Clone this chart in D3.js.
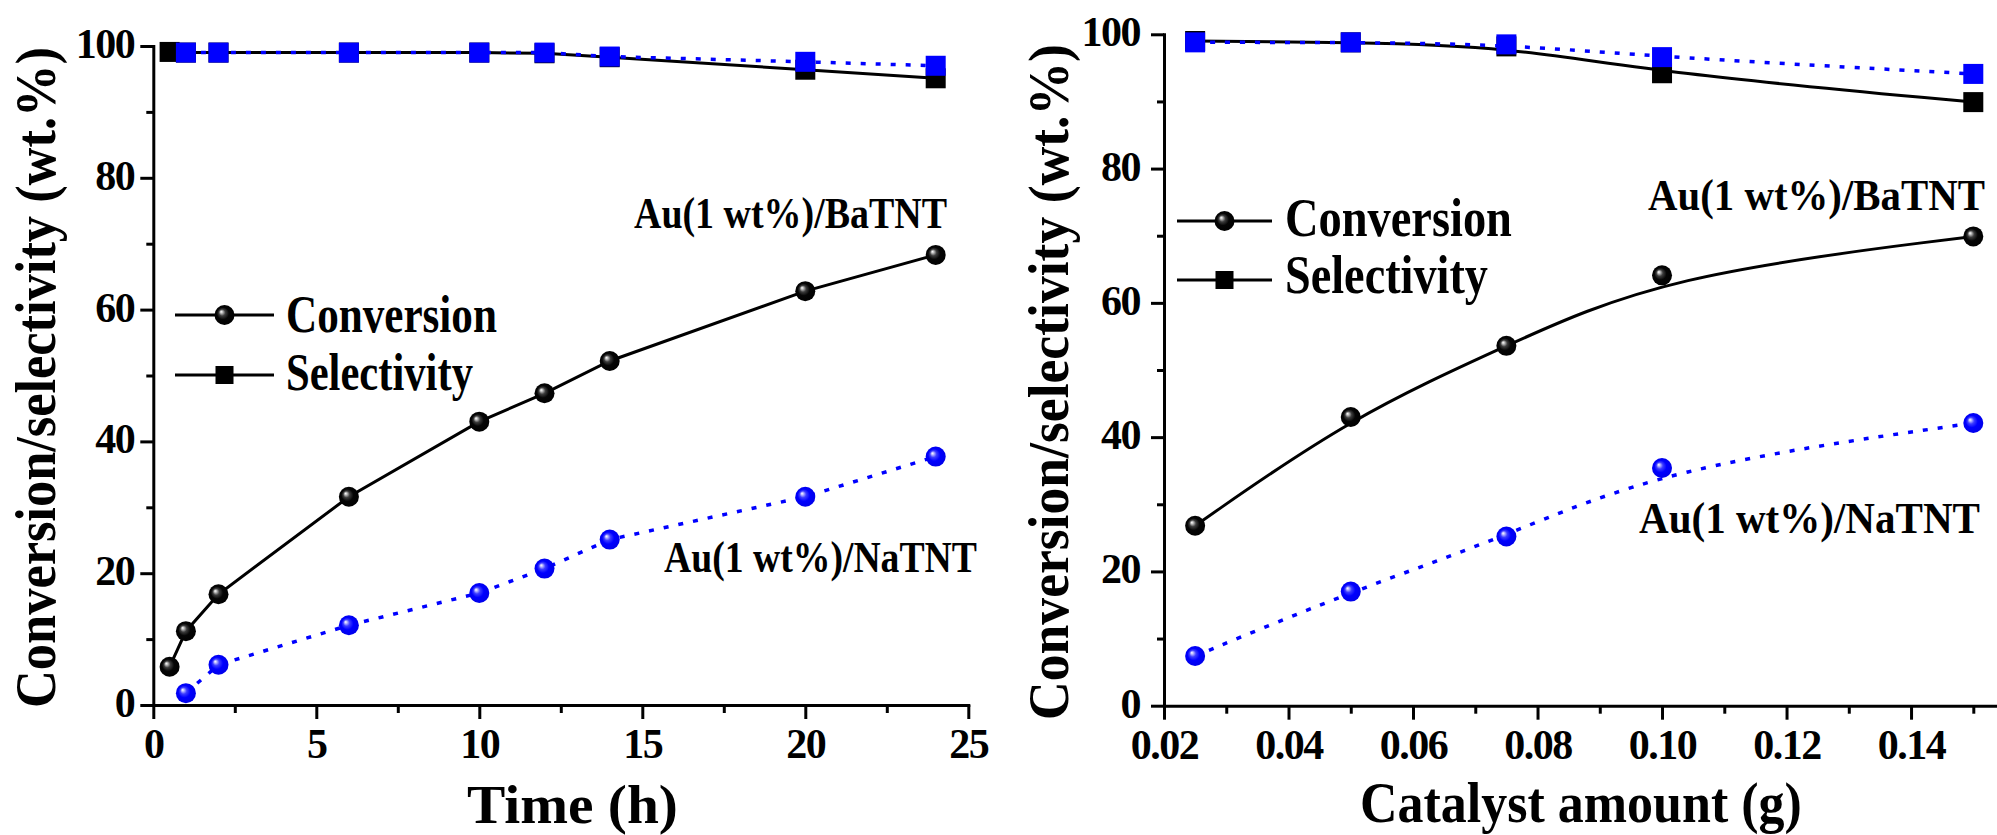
<!DOCTYPE html>
<html><head><meta charset="utf-8">
<script src="https://cdn.jsdelivr.net/npm/d3@7"></script>
<style>
html,body{margin:0;padding:0;background:#fff;}
svg{display:block;}
</style></head><body>
<svg id="chart" width="1997" height="835"></svg>
<script>
// Reaction time series (h)
const timeBa = [0.5, 1, 2, 6, 10, 12, 14, 20, 24];
const convBaTime = [5.8, 11.2, 16.8, 31.6, 43.0, 47.3, 52.2, 62.8, 68.3];
const selBaTime = [99.1, 99.0, 99.0, 99.0, 99.0, 98.9, 98.3, 96.4, 95.1];
const timeNa = [1, 2, 6, 10, 12, 14, 20, 24];
const convNaTime = [1.8, 6.1, 12.1, 17.0, 20.7, 25.1, 31.6, 37.7];
const selNaTime = [99.0, 99.0, 99.0, 99.0, 99.0, 98.4, 97.6, 97.0];

// Catalyst amount series (g)
const catalyst = [0.025, 0.05, 0.075, 0.10, 0.15];
const convBaCat = [26.8, 43.0, 53.6, 64.1, 69.9];
const selBaCat = [99.0, 98.8, 98.2, 94.2, 89.9];
const convNaCat = [7.4, 17.0, 25.2, 35.4, 42.1];
const selNaCat = [98.8, 98.8, 98.5, 96.6, 94.1];

// Axis ticks
const timeMajor = [0, 5, 10, 15, 20, 25];
const timeMinor = [2.5, 7.5, 12.5, 17.5, 22.5];
const catMajor = [0.02, 0.04, 0.06, 0.08, 0.10, 0.12, 0.14];
const catMinor = [0.03, 0.05, 0.07, 0.09, 0.11, 0.13, 0.15];
const yMajor = [0, 20, 40, 60, 80, 100];
const yMinor = [10, 30, 50, 70, 90];

const yTitle = "Conversion/selectivity (wt.%)";
const legendNames = ["Conversion", "Selectivity"];
const sampleBa = "Au(1 wt%)/BaTNT";
const sampleNa = "Au(1 wt%)/NaTNT";

const FONT = "'Liberation Serif', 'Times New Roman', serif";

const svg = d3.select("#chart");
const defs = svg.append("defs");

// shaded ball markers
function ball(id, stops) {
  const g = defs.append("radialGradient").attr("id", id)
    .attr("cx", 0.5).attr("cy", 0.5).attr("r", 0.55)
    .attr("fx", 0.33).attr("fy", 0.33);
  stops.forEach(s => g.append("stop").attr("offset", s[0]).attr("stop-color", s[1]));
}
ball("ballBlack", [[0, "#ffffff"], [0.1, "#c8c8c8"], [0.3, "#3c3c3c"], [0.55, "#050505"], [1, "#000000"]]);
ball("ballBlue", [[0, "#ffffff"], [0.1, "#c4c4ff"], [0.3, "#3c3cff"], [0.55, "#0000ff"], [1, "#0000e6"]]);

const BLUE = "#0000ff";
const R = 10, SQ = 20;

function styleAxis(sel) {
  sel.attr("font-family", FONT).attr("font-weight", "bold");
  sel.selectAll("line").attr("stroke", "#000").attr("stroke-width", 3);
  sel.select(".domain").attr("stroke", "#000").attr("stroke-width", 3).attr("stroke-linecap", "square");
}

// bold serif label squeezed horizontally to a given width
function label(g, t, size, x, y, len, rotate) {
  const el = g.append("text").attr("font-family", FONT).attr("font-weight", "bold")
    .attr("font-size", size).attr("fill", "#000").text(t);
  const k = len / el.node().getComputedTextLength();
  el.attr("transform", `translate(${x},${y})${rotate ? " rotate(-90)" : ""} scale(${k},1)`);
  return el;
}

function panel(c) {
  const x = d3.scaleLinear().domain(c.xDomain).range(c.xRange);
  const y = d3.scaleLinear().domain([0, 100]).range(c.yRange);
  const g = svg.append("g");
  const x0 = c.xRange[0], y0 = c.yRange[0];

  // minor ticks
  g.append("g").attr("transform", `translate(0,${y0})`)
    .call(d3.axisBottom(x).tickValues(c.xMinor).tickSize(8).tickSizeOuter(0).tickFormat(""))
    .call(s => s.select(".domain").remove()).call(styleAxis);
  g.append("g").attr("transform", `translate(${x0},0)`)
    .call(d3.axisLeft(y).tickValues(yMinor).tickSize(7).tickSizeOuter(0).tickFormat(""))
    .call(s => s.select(".domain").remove()).call(styleAxis);

  // major ticks and labels
  const xa = g.append("g").attr("transform", `translate(0,${y0})`)
    .call(d3.axisBottom(x).tickValues(c.xMajor).tickSize(14).tickSizeOuter(0).tickFormat(c.xFormat))
    .call(styleAxis);
  xa.selectAll("text").attr("y", 53).attr("dy", null)
    .attr("font-size", 42).attr("fill", "#000");
  const ya = g.append("g").attr("transform", `translate(${x0},0)`)
    .call(d3.axisLeft(y).tickValues(yMajor).tickSize(13).tickSizeOuter(0).tickFormat(d3.format("d")))
    .call(styleAxis);
  ya.selectAll("text").attr("x", -c.yLabelGap).attr("y", 11.5).attr("dy", null)
    .attr("font-size", 42).attr("fill", "#000");
  g.selectAll(".tick text").attr("letter-spacing", -1.5);

  const line = (xs, ys) => d3.line().curve(c.curve)
    .x((d, i) => x(xs[i])).y(d => y(d))(ys);

  function series(xs, conv, sel, color, grad, dash) {
    [conv, sel].forEach(vals => {
      g.append("path").attr("d", line(xs, vals)).attr("fill", "none")
        .attr("stroke", color).attr("stroke-width", dash ? 3.5 : 3)
        .attr("stroke-dasharray", dash ? "5 10" : null);
    });
    g.append("g").selectAll("rect").data(sel).join("rect")
      .attr("x", (d, i) => x(xs[i]) - SQ / 2).attr("y", d => y(d) - SQ / 2)
      .attr("width", SQ).attr("height", SQ).attr("fill", color);
    g.append("g").selectAll("circle").data(conv).join("circle")
      .attr("cx", (d, i) => x(xs[i])).attr("cy", d => y(d)).attr("r", R)
      .attr("fill", `url(#${grad})`);
  }
  series(c.xsBa, c.convBa, c.selBa, "#000", "ballBlack", false);
  series(c.xsNa, c.convNa, c.selNa, BLUE, "ballBlue", true);

  // legend
  const L = c.legend;
  [0, 1].forEach(i => {
    const ly = L.y[i];
    g.append("line").attr("x1", L.x1).attr("x2", L.x2).attr("y1", ly).attr("y2", ly)
      .attr("stroke", "#000").attr("stroke-width", 3);
    if (i === 0) g.append("circle").attr("cx", (L.x1 + L.x2) / 2).attr("cy", ly).attr("r", R).attr("fill", "url(#ballBlack)");
    else g.append("rect").attr("x", (L.x1 + L.x2) / 2 - 9).attr("y", ly - 9).attr("width", 18).attr("height", 18).attr("fill", "#000");
    label(g, legendNames[i], L.size, L.tx, L.base[i], L.len[i]);
  });

  // sample annotations
  c.notes.forEach(n => label(g, n.t, 44, n.x, n.y, n.len));

  // axis titles
  label(g, c.xTitle.t, c.xTitle.size, c.xTitle.x, c.xTitle.y, c.xTitle.len);
  label(g, yTitle, c.yTitle.size, c.yTitle.x, c.yTitle.y, c.yTitle.len, true);
}

panel({
  xDomain: [0, 25], xRange: [153.3, 968.3], yRange: [705, 46],
  xMajor: timeMajor, xMinor: timeMinor, xFormat: d3.format("d"), yLabelGap: 19,
  curve: d3.curveLinear,
  xsBa: timeBa, convBa: convBaTime, selBa: selBaTime,
  xsNa: timeNa, convNa: convNaTime, selNa: selNaTime,
  legend: { x1: 175, x2: 274, y: [315, 375], tx: 286, base: [332, 390], len: [211, 187], size: 52 },
  notes: [{ t: sampleBa, x: 634, y: 228, len: 313 }, { t: sampleNa, x: 664, y: 572, len: 313 }],
  xTitle: { t: "Time (h)", x: 467, y: 823, len: 211, size: 54 },
  yTitle: { x: 55, y: 708, len: 661, size: 56 }
});

panel({
  xDomain: [0.02, 0.154], xRange: [1164, 1998.2], yRange: [705.7, 34.3],
  xMajor: catMajor, xMinor: catMinor, xFormat: d3.format(".2f"), yLabelGap: 24,
  curve: d3.curveBasis,
  xsBa: catalyst, convBa: convBaCat, selBa: selBaCat,
  xsNa: catalyst, convNa: convNaCat, selNa: selNaCat,
  legend: { x1: 1177, x2: 1272, y: [221, 280], tx: 1285, base: [236, 293], len: [227, 203], size: 54 },
  notes: [{ t: sampleBa, x: 1648, y: 210, len: 337 }, { t: sampleNa, x: 1639, y: 533, len: 341 }],
  xTitle: { t: "Catalyst amount (g)", x: 1360, y: 822, len: 442, size: 56 },
  yTitle: { x: 1068, y: 720, len: 676, size: 58 }
});
</script>
</body></html>
